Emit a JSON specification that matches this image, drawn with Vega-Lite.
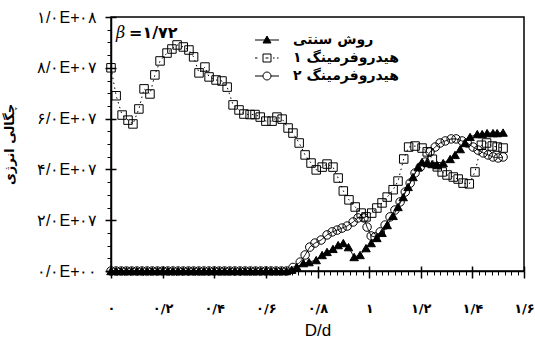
{
  "$schema": "https://vega.github.io/schema/vega-lite/v6.json",
  "width": 413,
  "height": 254,
  "autosize": "none",
  "padding": {"left": 111, "top": 17, "right": 11, "bottom": 74},
  "background": "white",
  "config": {
    "view": {"stroke": "black", "strokeWidth": 1.5},
    "font": "Liberation Sans",
    "legend": {
      "orient": "none", "legendX": 149, "legendY": 16,
      "title": null, "padding": 0,
      "symbolSize": 100, "symbolStrokeWidth": 1, "symbolOpacity": 1,
      "labelFont": "DejaVu Sans", "labelFontSize": 14, "labelFontWeight": "bold", "labelColor": "black",
      "labelOffset": 19, "rowPadding": 4
    }
  },
  "datasets": {
    "curves": [
      {"method": "روش سنتی", "D_d": 0, "energy": 0},
      {"method": "روش سنتی", "D_d": 0.02, "energy": 0},
      {"method": "روش سنتی", "D_d": 0.04, "energy": 0},
      {"method": "روش سنتی", "D_d": 0.06, "energy": 0},
      {"method": "روش سنتی", "D_d": 0.08, "energy": 0},
      {"method": "روش سنتی", "D_d": 0.1, "energy": 0},
      {"method": "روش سنتی", "D_d": 0.12, "energy": 0},
      {"method": "روش سنتی", "D_d": 0.14, "energy": 0},
      {"method": "روش سنتی", "D_d": 0.16, "energy": 0},
      {"method": "روش سنتی", "D_d": 0.18, "energy": 0},
      {"method": "روش سنتی", "D_d": 0.2, "energy": 0},
      {"method": "روش سنتی", "D_d": 0.22, "energy": 0},
      {"method": "روش سنتی", "D_d": 0.24, "energy": 0},
      {"method": "روش سنتی", "D_d": 0.26, "energy": 0},
      {"method": "روش سنتی", "D_d": 0.28, "energy": 0},
      {"method": "روش سنتی", "D_d": 0.3, "energy": 0},
      {"method": "روش سنتی", "D_d": 0.32, "energy": 0},
      {"method": "روش سنتی", "D_d": 0.34, "energy": 0},
      {"method": "روش سنتی", "D_d": 0.36, "energy": 0},
      {"method": "روش سنتی", "D_d": 0.38, "energy": 0},
      {"method": "روش سنتی", "D_d": 0.4, "energy": 0},
      {"method": "روش سنتی", "D_d": 0.42, "energy": 0},
      {"method": "روش سنتی", "D_d": 0.44, "energy": 0},
      {"method": "روش سنتی", "D_d": 0.46, "energy": 0},
      {"method": "روش سنتی", "D_d": 0.48, "energy": 0},
      {"method": "روش سنتی", "D_d": 0.5, "energy": 0},
      {"method": "روش سنتی", "D_d": 0.52, "energy": 0},
      {"method": "روش سنتی", "D_d": 0.54, "energy": 0},
      {"method": "روش سنتی", "D_d": 0.56, "energy": 0},
      {"method": "روش سنتی", "D_d": 0.58, "energy": 0},
      {"method": "روش سنتی", "D_d": 0.6, "energy": 0},
      {"method": "روش سنتی", "D_d": 0.62, "energy": 0},
      {"method": "روش سنتی", "D_d": 0.64, "energy": 0},
      {"method": "روش سنتی", "D_d": 0.66, "energy": 0},
      {"method": "روش سنتی", "D_d": 0.68, "energy": 0},
      {"method": "روش سنتی", "D_d": 0.7, "energy": 5e5},
      {"method": "روش سنتی", "D_d": 0.72, "energy": 1.6e6},
      {"method": "روش سنتی", "D_d": 0.745, "energy": 3.1e6},
      {"method": "روش سنتی", "D_d": 0.767, "energy": 3.5e6},
      {"method": "روش سنتی", "D_d": 0.795, "energy": 4.3e6},
      {"method": "روش سنتی", "D_d": 0.818, "energy": 6.3e6},
      {"method": "روش سنتی", "D_d": 0.837, "energy": 7.5e6},
      {"method": "روش سنتی", "D_d": 0.86, "energy": 8.7e6},
      {"method": "روش سنتی", "D_d": 0.88, "energy": 1.02e7},
      {"method": "روش سنتی", "D_d": 0.9, "energy": 1.1e7},
      {"method": "روش سنتی", "D_d": 0.92, "energy": 9.4e6},
      {"method": "روش سنتی", "D_d": 0.942, "energy": 5.5e6},
      {"method": "روش سنتی", "D_d": 0.965, "energy": 6.3e6},
      {"method": "روش سنتی", "D_d": 0.988, "energy": 9.0e6},
      {"method": "روش سنتی", "D_d": 1.008, "energy": 1.1e7},
      {"method": "روش سنتی", "D_d": 1.03, "energy": 1.3e7},
      {"method": "روش سنتی", "D_d": 1.05, "energy": 1.5e7},
      {"method": "روش سنتی", "D_d": 1.07, "energy": 1.81e7},
      {"method": "روش سنتی", "D_d": 1.093, "energy": 2.17e7},
      {"method": "روش سنتی", "D_d": 1.112, "energy": 2.52e7},
      {"method": "روش سنتی", "D_d": 1.132, "energy": 2.91e7},
      {"method": "روش سنتی", "D_d": 1.151, "energy": 3.31e7},
      {"method": "روش سنتی", "D_d": 1.17, "energy": 3.7e7},
      {"method": "روش سنتی", "D_d": 1.19, "energy": 4.09e7},
      {"method": "روش سنتی", "D_d": 1.205, "energy": 4.29e7},
      {"method": "روش سنتی", "D_d": 1.225, "energy": 4.25e7},
      {"method": "روش سنتی", "D_d": 1.244, "energy": 4.21e7},
      {"method": "روش سنتی", "D_d": 1.264, "energy": 4.17e7},
      {"method": "روش سنتی", "D_d": 1.287, "energy": 4.25e7},
      {"method": "روش سنتی", "D_d": 1.314, "energy": 4.41e7},
      {"method": "روش سنتی", "D_d": 1.333, "energy": 4.57e7},
      {"method": "روش سنتی", "D_d": 1.353, "energy": 4.8e7},
      {"method": "روش سنتی", "D_d": 1.372, "energy": 5.04e7},
      {"method": "روش سنتی", "D_d": 1.391, "energy": 5.28e7},
      {"method": "روش سنتی", "D_d": 1.419, "energy": 5.39e7},
      {"method": "روش سنتی", "D_d": 1.438, "energy": 5.39e7},
      {"method": "روش سنتی", "D_d": 1.457, "energy": 5.43e7},
      {"method": "روش سنتی", "D_d": 1.48, "energy": 5.43e7},
      {"method": "روش سنتی", "D_d": 1.496, "energy": 5.43e7},
      {"method": "روش سنتی", "D_d": 1.519, "energy": 5.45e7},

      {"method": "هیدروفرمینگ ۱", "D_d": 0, "energy": 8.0e7},
      {"method": "هیدروفرمینگ ۱", "D_d": 0.02, "energy": 6.9e7},
      {"method": "هیدروفرمینگ ۱", "D_d": 0.043, "energy": 6.14e7},
      {"method": "هیدروفرمینگ ۱", "D_d": 0.066, "energy": 5.94e7},
      {"method": "هیدروفرمینگ ۱", "D_d": 0.085, "energy": 5.79e7},
      {"method": "هیدروفرمینگ ۱", "D_d": 0.108, "energy": 6.38e7},
      {"method": "هیدروفرمینگ ۱", "D_d": 0.128, "energy": 7.17e7},
      {"method": "هیدروفرمینگ ۱", "D_d": 0.151, "energy": 6.97e7},
      {"method": "هیدروفرمینگ ۱", "D_d": 0.17, "energy": 7.72e7},
      {"method": "هیدروفرمینگ ۱", "D_d": 0.19, "energy": 8.27e7},
      {"method": "هیدروفرمینگ ۱", "D_d": 0.217, "energy": 8.58e7},
      {"method": "هیدروفرمینگ ۱", "D_d": 0.236, "energy": 8.74e7},
      {"method": "هیدروفرمینگ ۱", "D_d": 0.256, "energy": 8.9e7},
      {"method": "هیدروفرمینگ ۱", "D_d": 0.28, "energy": 8.82e7},
      {"method": "هیدروفرمینگ ۱", "D_d": 0.302, "energy": 8.7e7},
      {"method": "هیدروفرمینگ ۱", "D_d": 0.32, "energy": 8.43e7},
      {"method": "هیدروفرمینگ ۱", "D_d": 0.341, "energy": 7.8e7},
      {"method": "هیدروفرمینگ ۱", "D_d": 0.364, "energy": 8.03e7},
      {"method": "هیدروفرمینگ ۱", "D_d": 0.38, "energy": 7.64e7},
      {"method": "هیدروفرمینگ ۱", "D_d": 0.407, "energy": 7.52e7},
      {"method": "هیدروفرمینگ ۱", "D_d": 0.43, "energy": 7.48e7},
      {"method": "هیدروفرمینگ ۱", "D_d": 0.45, "energy": 7.24e7},
      {"method": "هیدروفرمینگ ۱", "D_d": 0.473, "energy": 6.54e7},
      {"method": "هیدروفرمینگ ۱", "D_d": 0.496, "energy": 6.34e7},
      {"method": "هیدروفرمینگ ۱", "D_d": 0.515, "energy": 6.18e7},
      {"method": "هیدروفرمینگ ۱", "D_d": 0.539, "energy": 6.16e7},
      {"method": "هیدروفرمینگ ۱", "D_d": 0.558, "energy": 6.16e7},
      {"method": "هیدروفرمینگ ۱", "D_d": 0.578, "energy": 6.06e7},
      {"method": "هیدروفرمینگ ۱", "D_d": 0.6, "energy": 5.9e7},
      {"method": "هیدروفرمینگ ۱", "D_d": 0.624, "energy": 5.9e7},
      {"method": "هیدروفرمینگ ۱", "D_d": 0.643, "energy": 6.06e7},
      {"method": "هیدروفرمینگ ۱", "D_d": 0.663, "energy": 5.98e7},
      {"method": "هیدروفرمینگ ۱", "D_d": 0.686, "energy": 5.63e7},
      {"method": "هیدروفرمینگ ۱", "D_d": 0.705, "energy": 5.43e7},
      {"method": "هیدروفرمینگ ۱", "D_d": 0.729, "energy": 5.04e7},
      {"method": "هیدروفرمینگ ۱", "D_d": 0.752, "energy": 4.57e7},
      {"method": "هیدروفرمینگ ۱", "D_d": 0.775, "energy": 4.25e7},
      {"method": "هیدروفرمینگ ۱", "D_d": 0.795, "energy": 3.98e7},
      {"method": "هیدروفرمینگ ۱", "D_d": 0.818, "energy": 4.09e7},
      {"method": "هیدروفرمینگ ۱", "D_d": 0.837, "energy": 4.21e7},
      {"method": "هیدروفرمینگ ۱", "D_d": 0.86, "energy": 4.09e7},
      {"method": "هیدروفرمینگ ۱", "D_d": 0.88, "energy": 3.66e7},
      {"method": "هیدروفرمینگ ۱", "D_d": 0.9, "energy": 3.15e7},
      {"method": "هیدروفرمینگ ۱", "D_d": 0.922, "energy": 2.8e7},
      {"method": "هیدروفرمینگ ۱", "D_d": 0.946, "energy": 2.52e7},
      {"method": "هیدروفرمینگ ۱", "D_d": 0.969, "energy": 2.28e7},
      {"method": "هیدروفرمینگ ۱", "D_d": 0.988, "energy": 2.13e7},
      {"method": "هیدروفرمینگ ۱", "D_d": 1.01, "energy": 2.28e7},
      {"method": "هیدروفرمینگ ۱", "D_d": 1.03, "energy": 2.48e7},
      {"method": "هیدروفرمینگ ۱", "D_d": 1.05, "energy": 2.68e7},
      {"method": "هیدروفرمینگ ۱", "D_d": 1.07, "energy": 2.91e7},
      {"method": "هیدروفرمینگ ۱", "D_d": 1.093, "energy": 3.2e7},
      {"method": "هیدروفرمینگ ۱", "D_d": 1.112, "energy": 3.54e7},
      {"method": "هیدروفرمینگ ۱", "D_d": 1.134, "energy": 4.41e7},
      {"method": "هیدروفرمینگ ۱", "D_d": 1.153, "energy": 4.88e7},
      {"method": "هیدروفرمینگ ۱", "D_d": 1.178, "energy": 4.92e7},
      {"method": "هیدروفرمینگ ۱", "D_d": 1.205, "energy": 4.84e7},
      {"method": "هیدروفرمینگ ۱", "D_d": 1.225, "energy": 4.69e7},
      {"method": "هیدروفرمینگ ۱", "D_d": 1.245, "energy": 4.4e7},
      {"method": "هیدروفرمینگ ۱", "D_d": 1.264, "energy": 4.1e7},
      {"method": "هیدروفرمینگ ۱", "D_d": 1.283, "energy": 3.9e7},
      {"method": "هیدروفرمینگ ۱", "D_d": 1.302, "energy": 3.78e7},
      {"method": "هیدروفرمینگ ۱", "D_d": 1.326, "energy": 3.7e7},
      {"method": "هیدروفرمینگ ۱", "D_d": 1.345, "energy": 3.62e7},
      {"method": "هیدروفرمینگ ۱", "D_d": 1.364, "energy": 3.46e7},
      {"method": "هیدروفرمینگ ۱", "D_d": 1.388, "energy": 3.43e7},
      {"method": "هیدروفرمینگ ۱", "D_d": 1.41, "energy": 3.9e7},
      {"method": "هیدروفرمینگ ۱", "D_d": 1.435, "energy": 4.95e7},
      {"method": "هیدروفرمینگ ۱", "D_d": 1.455, "energy": 5.04e7},
      {"method": "هیدروفرمینگ ۱", "D_d": 1.477, "energy": 4.92e7},
      {"method": "هیدروفرمینگ ۱", "D_d": 1.496, "energy": 4.88e7},
      {"method": "هیدروفرمینگ ۱", "D_d": 1.519, "energy": 4.84e7},

      {"method": "هیدروفرمینگ ۲", "D_d": 0, "energy": 0},
      {"method": "هیدروفرمینگ ۲", "D_d": 0.02, "energy": 0},
      {"method": "هیدروفرمینگ ۲", "D_d": 0.04, "energy": 0},
      {"method": "هیدروفرمینگ ۲", "D_d": 0.06, "energy": 0},
      {"method": "هیدروفرمینگ ۲", "D_d": 0.08, "energy": 0},
      {"method": "هیدروفرمینگ ۲", "D_d": 0.1, "energy": 0},
      {"method": "هیدروفرمینگ ۲", "D_d": 0.12, "energy": 0},
      {"method": "هیدروفرمینگ ۲", "D_d": 0.14, "energy": 0},
      {"method": "هیدروفرمینگ ۲", "D_d": 0.16, "energy": 0},
      {"method": "هیدروفرمینگ ۲", "D_d": 0.18, "energy": 0},
      {"method": "هیدروفرمینگ ۲", "D_d": 0.2, "energy": 0},
      {"method": "هیدروفرمینگ ۲", "D_d": 0.22, "energy": 0},
      {"method": "هیدروفرمینگ ۲", "D_d": 0.24, "energy": 0},
      {"method": "هیدروفرمینگ ۲", "D_d": 0.26, "energy": 0},
      {"method": "هیدروفرمینگ ۲", "D_d": 0.28, "energy": 0},
      {"method": "هیدروفرمینگ ۲", "D_d": 0.3, "energy": 0},
      {"method": "هیدروفرمینگ ۲", "D_d": 0.32, "energy": 0},
      {"method": "هیدروفرمینگ ۲", "D_d": 0.34, "energy": 0},
      {"method": "هیدروفرمینگ ۲", "D_d": 0.36, "energy": 0},
      {"method": "هیدروفرمینگ ۲", "D_d": 0.38, "energy": 0},
      {"method": "هیدروفرمینگ ۲", "D_d": 0.4, "energy": 0},
      {"method": "هیدروفرمینگ ۲", "D_d": 0.42, "energy": 0},
      {"method": "هیدروفرمینگ ۲", "D_d": 0.44, "energy": 0},
      {"method": "هیدروفرمینگ ۲", "D_d": 0.46, "energy": 0},
      {"method": "هیدروفرمینگ ۲", "D_d": 0.48, "energy": 0},
      {"method": "هیدروفرمینگ ۲", "D_d": 0.5, "energy": 0},
      {"method": "هیدروفرمینگ ۲", "D_d": 0.52, "energy": 0},
      {"method": "هیدروفرمینگ ۲", "D_d": 0.54, "energy": 0},
      {"method": "هیدروفرمینگ ۲", "D_d": 0.56, "energy": 0},
      {"method": "هیدروفرمینگ ۲", "D_d": 0.58, "energy": 0},
      {"method": "هیدروفرمینگ ۲", "D_d": 0.6, "energy": 0},
      {"method": "هیدروفرمینگ ۲", "D_d": 0.62, "energy": 0},
      {"method": "هیدروفرمینگ ۲", "D_d": 0.64, "energy": 0},
      {"method": "هیدروفرمینگ ۲", "D_d": 0.66, "energy": 0},
      {"method": "هیدروفرمینگ ۲", "D_d": 0.68, "energy": 0},
      {"method": "هیدروفرمینگ ۲", "D_d": 0.705, "energy": 1.4e6},
      {"method": "هیدروفرمینگ ۲", "D_d": 0.733, "energy": 3.5e6},
      {"method": "هیدروفرمینگ ۲", "D_d": 0.752, "energy": 6.3e6},
      {"method": "هیدروفرمینگ ۲", "D_d": 0.77, "energy": 9.4e6},
      {"method": "هیدروفرمینگ ۲", "D_d": 0.79, "energy": 1.1e7},
      {"method": "هیدروفرمینگ ۲", "D_d": 0.814, "energy": 1.22e7},
      {"method": "هیدروفرمینگ ۲", "D_d": 0.837, "energy": 1.42e7},
      {"method": "هیدروفرمینگ ۲", "D_d": 0.857, "energy": 1.54e7},
      {"method": "هیدروفرمینگ ۲", "D_d": 0.876, "energy": 1.61e7},
      {"method": "هیدروفرمینگ ۲", "D_d": 0.895, "energy": 1.69e7},
      {"method": "هیدروفرمینگ ۲", "D_d": 0.915, "energy": 1.77e7},
      {"method": "هیدروفرمینگ ۲", "D_d": 0.938, "energy": 1.93e7},
      {"method": "هیدروفرمینگ ۲", "D_d": 0.957, "energy": 2.09e7},
      {"method": "هیدروفرمینگ ۲", "D_d": 0.98, "energy": 2.09e7},
      {"method": "هیدروفرمینگ ۲", "D_d": 0.992, "energy": 1.73e7},
      {"method": "هیدروفرمینگ ۲", "D_d": 1.008, "energy": 1.38e7},
      {"method": "هیدروفرمینگ ۲", "D_d": 1.023, "energy": 1.34e7},
      {"method": "هیدروفرمینگ ۲", "D_d": 1.043, "energy": 1.54e7},
      {"method": "هیدروفرمینگ ۲", "D_d": 1.062, "energy": 1.81e7},
      {"method": "هیدروفرمینگ ۲", "D_d": 1.081, "energy": 2.13e7},
      {"method": "هیدروفرمینگ ۲", "D_d": 1.1, "energy": 2.4e7},
      {"method": "هیدروفرمینگ ۲", "D_d": 1.12, "energy": 2.72e7},
      {"method": "هیدروفرمینگ ۲", "D_d": 1.14, "energy": 3.11e7},
      {"method": "هیدروفرمینگ ۲", "D_d": 1.159, "energy": 3.46e7},
      {"method": "هیدروفرمینگ ۲", "D_d": 1.178, "energy": 3.86e7},
      {"method": "هیدروفرمینگ ۲", "D_d": 1.198, "energy": 4.09e7},
      {"method": "هیدروفرمینگ ۲", "D_d": 1.217, "energy": 4.29e7},
      {"method": "هیدروفرمینگ ۲", "D_d": 1.236, "energy": 4.69e7},
      {"method": "هیدروفرمینگ ۲", "D_d": 1.256, "energy": 4.88e7},
      {"method": "هیدروفرمینگ ۲", "D_d": 1.275, "energy": 5.04e7},
      {"method": "هیدروفرمینگ ۲", "D_d": 1.295, "energy": 5.12e7},
      {"method": "هیدروفرمینگ ۲", "D_d": 1.318, "energy": 5.2e7},
      {"method": "هیدروفرمینگ ۲", "D_d": 1.337, "energy": 5.2e7},
      {"method": "هیدروفرمینگ ۲", "D_d": 1.36, "energy": 5.12e7},
      {"method": "هیدروفرمینگ ۲", "D_d": 1.38, "energy": 5.04e7},
      {"method": "هیدروفرمینگ ۲", "D_d": 1.403, "energy": 4.88e7},
      {"method": "هیدروفرمینگ ۲", "D_d": 1.422, "energy": 4.76e7},
      {"method": "هیدروفرمینگ ۲", "D_d": 1.442, "energy": 4.65e7},
      {"method": "هیدروفرمینگ ۲", "D_d": 1.461, "energy": 4.57e7},
      {"method": "هیدروفرمینگ ۲", "D_d": 1.48, "energy": 4.49e7},
      {"method": "هیدروفرمینگ ۲", "D_d": 1.5, "energy": 4.45e7},
      {"method": "هیدروفرمینگ ۲", "D_d": 1.519, "energy": 4.49e7}
    ]
  },
  "layer": [
    {
      "data": {"name": "curves"},
      "mark": {"type": "line", "color": "black", "strokeWidth": 1},
      "encoding": {
        "x": {
          "field": "D_d", "type": "quantitative",
          "scale": {"domain": [0, 1.6], "nice": false, "zero": false},
          "axis": {
            "orient": "bottom",
            "values": [0, 0.2, 0.4, 0.6, 0.8, 1, 1.2, 1.4, 1.6],
            "labelExpr": "['۰','۰/۲','۰/۴','۰/۶','۰/۸','۱','۱/۲','۱/۴','۱/۶'][round(datum.value*5)]",
            "grid": false,
            "tickSize": 7, "tickWidth": 1.5, "tickColor": "black",
            "domainColor": "black", "domainWidth": 1.5,
            "labelFont": "DejaVu Sans", "labelFontSize": 13, "labelFontWeight": "bold", "labelColor": "black",
            "labelPadding": 24, "labelFlush": false, "labelOverlap": false,
            "title": "D/d", "titleFont": "Liberation Sans", "titleFontSize": 17, "titleFontWeight": "normal", "titleColor": "black",
            "titlePadding": 7
          }
        },
        "y": {
          "field": "energy", "type": "quantitative",
          "scale": {"domain": [0, 100000000], "nice": false},
          "axis": {
            "orient": "left",
            "values": [0, 20000000, 40000000, 60000000, 80000000, 100000000],
            "labelExpr": "['۰/۰E+۰۰','۲/۰E+۰۷','۴/۰E+۰۷','۶/۰E+۰۷','۸/۰E+۰۷','۱/۰E+۰۸'][round(datum.value/20000000)]",
            "grid": false,
            "tickSize": 6, "tickWidth": 1.5, "tickColor": "black",
            "domainColor": "black", "domainWidth": 1.5,
            "labelFont": "Liberation Sans", "labelFontSize": 16, "labelColor": "black",
            "labelPadding": 8, "labelFlush": false, "labelOverlap": false,
            "title": "چگالی انرژی", "titleFont": "DejaVu Sans", "titleFontSize": 13, "titleFontWeight": "bold", "titleColor": "black",
            "titlePadding": 20
          }
        },
        "detail": {"field": "method", "type": "nominal"},
        "strokeDash": {
          "condition": {"test": "datum.method === 'هیدروفرمینگ ۱'", "value": [1.5, 3.5]},
          "value": [1, 0]
        }
      }
    },
    {
      "data": {"name": "curves"},
      "mark": {"type": "point", "filled": true, "stroke": "black", "strokeWidth": 1, "size": 72, "opacity": 1},
      "encoding": {
        "x": {
          "field": "D_d", "type": "quantitative",
          "scale": {"domain": [0, 1.6], "nice": false, "zero": false},
          "axis": {
            "orient": "bottom", "values": [0, 0.2, 0.4, 0.6, 0.8, 1, 1.2, 1.4, 1.6],
            "tickSize": -5, "tickWidth": 1.5, "tickColor": "black",
            "labels": false, "domain": false, "grid": false, "title": null
          }
        },
        "y": {
          "field": "energy", "type": "quantitative",
          "scale": {"domain": [0, 100000000], "nice": false},
          "axis": {
            "orient": "left", "values": [0, 20000000, 40000000, 60000000, 80000000, 100000000],
            "tickSize": -5, "tickWidth": 1.5, "tickColor": "black",
            "labels": false, "domain": false, "grid": false, "title": null
          }
        },
        "shape": {
          "condition": [
            {"test": "datum.method === 'روش سنتی'", "value": "triangle-up"},
            {"test": "datum.method === 'هیدروفرمینگ ۱'", "value": "square"}
          ],
          "value": "circle"
        },
        "fill": {
          "condition": {"test": "datum.method === 'روش سنتی'", "value": "black"},
          "value": "transparent"
        }
      }
    },
    {
      "data": {"name": "curves"},
      "transform": [{"filter": "datum.D_d < 0"}],
      "mark": {"type": "point", "filled": true, "strokeWidth": 1},
      "encoding": {
        "x": {"field": "D_d", "type": "quantitative", "scale": {"domain": [0, 1.6], "nice": false, "zero": false}, "axis": null},
        "y": {"field": "energy", "type": "quantitative", "scale": {"domain": [0, 100000000], "nice": false}, "axis": null},
        "shape": {
          "field": "method", "type": "nominal",
          "scale": {
            "domain": ["روش سنتی", "هیدروفرمینگ ۱", "هیدروفرمینگ ۲"],
            "range": [
              "M-2.4,0H2.4M-0.8,0.6L0,-0.8L0.8,0.6Z",
              "M-2.4,0H-1.9M-0.8,-0.8H0.8V0.8H-0.8ZM-0.3,0H0.3M1.2,0H1.5M2,0H2.3",
              "M-2.4,0H-0.8M0.8,0H2.4M0.8,0A0.8,0.8 0 1,1 -0.8,0A0.8,0.8 0 1,1 0.8,0Z"
            ]
          }
        },
        "fill": {
          "field": "method", "type": "nominal",
          "scale": {
            "domain": ["روش سنتی", "هیدروفرمینگ ۱", "هیدروفرمینگ ۲"],
            "range": ["black", "transparent", "transparent"]
          }
        },
        "stroke": {
          "field": "method", "type": "nominal",
          "scale": {
            "domain": ["روش سنتی", "هیدروفرمینگ ۱", "هیدروفرمینگ ۲"],
            "range": ["black", "black", "black"]
          }
        }
      }
    },
    {
      "data": {"values": [{"note": "β", "D_d": 0.019, "energy": 93700000}]},
      "mark": {"type": "text", "align": "left", "baseline": "middle", "font": "DejaVu Serif", "fontStyle": "italic", "fontSize": 16, "color": "black"},
      "encoding": {
        "x": {
          "field": "D_d", "type": "quantitative",
          "scale": {"domain": [0, 1.6], "nice": false, "zero": false},
          "axis": {
            "orient": "bottom",
            "values": [0.025, 0.05, 0.075, 0.1, 0.125, 0.15, 0.175, 0.225, 0.25, 0.275, 0.3, 0.325, 0.35, 0.375, 0.425, 0.45, 0.475, 0.5, 0.525, 0.55, 0.575, 0.625, 0.65, 0.675, 0.7, 0.725, 0.75, 0.775, 0.825, 0.85, 0.875, 0.9, 0.925, 0.95, 0.975, 1.025, 1.05, 1.075, 1.1, 1.125, 1.15, 1.175, 1.225, 1.25, 1.275, 1.3, 1.325, 1.35, 1.375, 1.425, 1.45, 1.475, 1.5, 1.525, 1.55, 1.575],
            "tickSize": 4, "tickWidth": 1, "tickColor": "black",
            "labels": false, "domain": false, "grid": false, "title": null
          }
        },
        "y": {
          "field": "energy", "type": "quantitative",
          "scale": {"domain": [0, 100000000], "nice": false},
          "axis": {
            "orient": "left",
            "values": [5000000, 10000000, 15000000, 25000000, 30000000, 35000000, 45000000, 50000000, 55000000, 65000000, 70000000, 75000000, 85000000, 90000000, 95000000],
            "tickSize": 4, "tickWidth": 1, "tickColor": "black",
            "labels": false, "domain": false, "grid": false, "title": null
          }
        },
        "text": {"field": "note", "type": "nominal"}
      }
    },
    {
      "data": {"values": [{"note": "=۱/۷۲", "D_d": 0.07, "energy": 93700000}]},
      "mark": {"type": "text", "align": "left", "baseline": "middle", "font": "DejaVu Sans", "fontWeight": "bold", "fontSize": 16, "color": "black"},
      "encoding": {
        "x": {"field": "D_d", "type": "quantitative", "scale": {"domain": [0, 1.6], "nice": false, "zero": false}, "axis": null},
        "y": {"field": "energy", "type": "quantitative", "scale": {"domain": [0, 100000000], "nice": false}, "axis": null},
        "text": {"field": "note", "type": "nominal"}
      }
    }
  ],
  "resolve": {"axis": {"x": "independent", "y": "independent"}}
}
